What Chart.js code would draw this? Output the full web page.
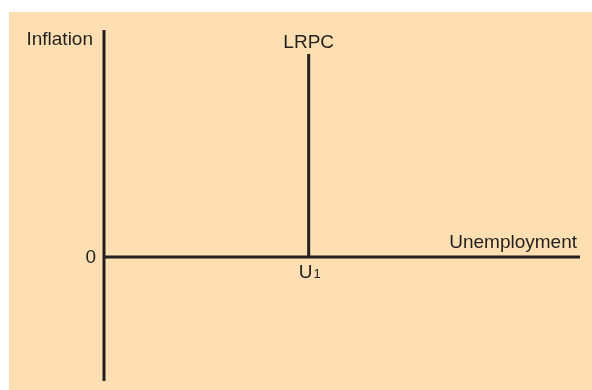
<!DOCTYPE html>
<html>
<head>
<meta charset="utf-8">
<script src="https://cdn.jsdelivr.net/npm/chart.js@4/dist/chart.umd.min.js"></script>
<style>
  html, body { margin: 0; padding: 0; background: #fff; }
  #panel { position: absolute; left: 9px; top: 12px; width: 583px; height: 378px; background: #fedfb1; }
  #wrap { position: absolute; left: 0; top: 0; width: 592px; height: 390px; }
</style>
</head>
<body>
<div id="panel"></div>
<div id="wrap"><canvas id="chart" width="592" height="390"></canvas></div>
<script>
'use strict';

// axis ranges (arbitrary units, diagram only)
const xRange = [0, 100];
const yRange = [-124, 227];

// the two axes
const inflationAxisX = [0, 0];
const inflationAxisY = [-124, 227];
const unempAxisX = [0, 100];
const unempAxisY = [0, 0];

// long run Phillips curve, vertical at U1
const lrpcX = [43, 43];
const lrpcY = [0, 203];

const INK = '#231f20';
const FONT = '19px "Liberation Sans", Arial, sans-serif';

function pts(xs, ys) {
  return xs.map((x, i) => ({ x, y: ys[i] }));
}

function lineSet(xs, ys) {
  return {
    data: pts(xs, ys),
    showLine: true,
    borderColor: INK,
    borderWidth: 3,
    pointRadius: 0,
    clip: false,
  };
}

const labelPlugin = {
  id: 'labels',
  afterDatasetsDraw(chart) {
    const ctx = chart.ctx;
    const xs = chart.scales.x, ys = chart.scales.y;
    const x0 = xs.getPixelForValue(0);
    const y0 = ys.getPixelForValue(0);
    const xU = xs.getPixelForValue(lrpcX[0]);
    ctx.save();
    ctx.fillStyle = INK;
    ctx.font = FONT;
    ctx.textBaseline = 'alphabetic';

    ctx.textAlign = 'right';
    ctx.fillText('Inflation', x0 - 11, 45);
    ctx.fillText('0', x0 - 8, y0 + 6);
    ctx.fillText('Unemployment', xs.getPixelForValue(xRange[1]) - 3, y0 - 9);

    ctx.textAlign = 'center';
    ctx.fillText('LRPC', xU, ys.getPixelForValue(lrpcY[1]) - 6);

    // U with subscript 1
    ctx.textAlign = 'left';
    const uw = ctx.measureText('U').width;
    ctx.fillText('U', xU - 10, y0 + 21);
    ctx.font = '13px "Liberation Sans", Arial, sans-serif';
    ctx.fillText('1', xU - 10 + uw + 1, y0 + 21);
    ctx.restore();
  }
};

new Chart(document.getElementById('chart'), {
  type: 'scatter',
  data: {
    datasets: [
      lineSet(inflationAxisX, inflationAxisY),
      lineSet(unempAxisX, unempAxisY),
      lineSet(lrpcX, lrpcY),
    ]
  },
  options: {
    responsive: false,
    animation: false,
    layout: { padding: { left: 104, right: 12, top: 30, bottom: 9 } },
    scales: {
      x: { type: 'linear', min: xRange[0], max: xRange[1], display: false },
      y: { type: 'linear', min: yRange[0], max: yRange[1], display: false },
    },
    plugins: {
      legend: { display: false },
      tooltip: { enabled: false },
    },
  },
  plugins: [labelPlugin],
});
</script>
</body>
</html>
